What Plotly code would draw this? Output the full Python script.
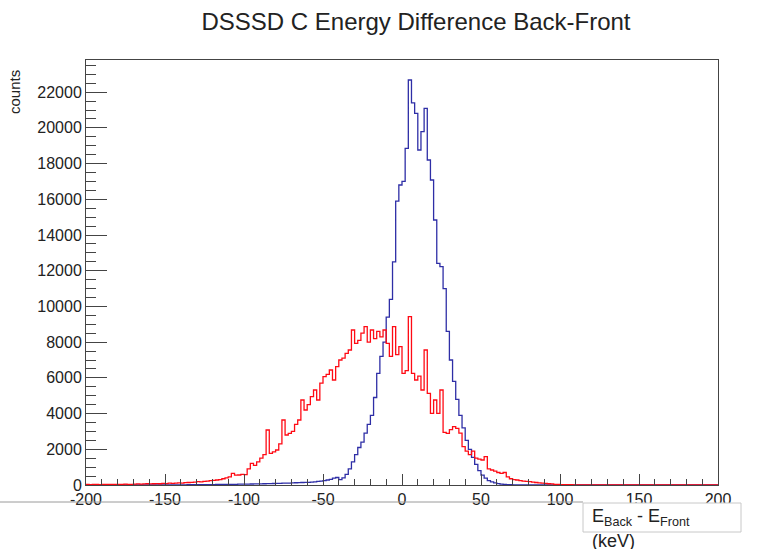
import numpy as np
import plotly.graph_objects as go

# Histogram binning (2 keV bins from -200 to 200 keV)
bin_lo, bin_hi, bin_w = -200, 200, 2

# Blue histogram counts, one row per 20 keV (left edges -200, -180, ...)
blue_counts = [
    0, 0, 0, 0, 0, 0, 0, 0, 0, 0,
    0, 0, 0, 0, 0, 0, 0, 0, 0, 0,
    0, 0, 5, 5, 5, 5, 10, 10, 10, 10,
    10, 10, 15, 15, 15, 20, 20, 20, 25, 25,
    25, 30, 30, 30, 35, 35, 40, 40, 45, 45,
    50, 50, 55, 60, 60, 65, 70, 75, 80, 85,
    90, 95, 100, 105, 110, 120, 125, 130, 140, 150,
    150, 160, 180, 200, 220, 250, 280, 320, 380, 420,
    300, 400, 600, 900, 1300, 1700, 2100, 2400, 2900, 3400,
    3900, 4900, 6255, 7200, 8000, 9400, 10400, 12500, 15900, 16800,
    17000, 18855, 22680, 21400, 20815, 18760, 19785, 21095, 18200, 17080,
    14840, 12415, 12225, 11000, 8600, 7000, 5800, 4800, 3900, 3200,
    2500, 2000, 1550, 1150, 800, 550, 380, 250, 170, 120,
    80, 50, 35, 20, 15, 10, 8, 5, 5, 3,
    0, 0, 0, 0, 0, 0, 0, 0, 0, 0,
    0, 0, 0, 0, 0, 0, 0, 0, 0, 0,
    0, 0, 0, 0, 0, 0, 0, 0, 0, 0,
    0, 0, 0, 0, 0, 0, 0, 0, 0, 0,
    0, 0, 0, 0, 0, 0, 0, 0, 0, 0,
    0, 0, 0, 0, 0, 0, 0, 0, 0, 0,
]

# Red histogram counts, one row per 20 keV (left edges -200, -180, ...)
red_counts = [
    30, 20, 40, 30, 20, 30, 40, 30, 40, 30,
    40, 30, 50, 40, 40, 50, 60, 50, 60, 70,
    60, 70, 80, 70, 90, 80, 100, 90, 110, 120,
    110, 130, 140, 150, 160, 185, 180, 200, 220, 250,
    260, 280, 300, 350, 400, 450, 650, 550, 560, 600,
    580, 900, 1215, 1100, 1300, 1500, 1700, 3080, 1775, 1850,
    1960, 2300, 3640, 2800, 2895, 3000, 3400, 3640, 4760, 4200,
    4500, 4945, 5320, 4760, 5700, 6065, 6200, 6440, 5880, 6625,
    7000, 7100, 7375, 7560, 8680, 7935, 8100, 8500, 8865, 8000,
    8680, 8200, 8600, 8300, 8680, 7935, 7200, 8865, 7300, 7745,
    6255, 6400, 9425, 6255, 5880, 6100, 5320, 7560, 5135, 4015,
    4760, 4015, 5320, 2950, 2895, 3100, 3265, 3175, 2900, 2150,
    1900, 1700, 1900, 1500, 1450, 1400, 1585, 900, 840, 780,
    700, 655, 700, 450, 350, 300, 280, 250, 220, 200,
    185, 160, 140, 120, 100, 90, 70, 60, 40, 30,
    20, 20, 15, 15, 10, 10, 10, 8, 8, 5,
    5, 5, 5, 5, 5, 5, 5, 5, 5, 5,
    5, 5, 5, 5, 5, 5, 5, 5, 5, 5,
    5, 5, 5, 5, 5, 5, 5, 5, 5, 5,
    5, 5, 5, 5, 5, 5, 5, 5, 5, 5,
]

x_tick_vals = [-200, -150, -100, -50, 0, 50, 100, 150, 200]
x_tick_text = ["-200", "-150", "-100", "-50", "0", "50", "100", "150", "200"]
y_tick_vals = [0, 2000, 4000, 6000, 8000, 10000, 12000, 14000, 16000, 18000, 20000, 22000]
y_tick_text = ["0", "2000", "4000", "6000", "8000", "10000", "12000", "14000",
               "16000", "18000", "20000", "22000"]

edges = np.arange(bin_lo, bin_hi + bin_w, bin_w)

def step_y(vals):
    return list(vals) + [vals[-1]]

FONT = "Liberation Sans, Arial, Helvetica, sans-serif"

fig = go.Figure()
fig.add_trace(go.Scatter(x=edges, y=step_y(blue_counts), mode="lines",
                         line=dict(shape="hv", color="#2e2ea6", width=1.3),
                         hoverinfo="skip", showlegend=False))
fig.add_trace(go.Scatter(x=edges, y=step_y(red_counts), mode="lines",
                         line=dict(shape="hv", color="#ff0a14", width=1.3),
                         hoverinfo="skip", showlegend=False))

W, H = 784, 549
L, R, T, B = 86, 718, 60, 485

def px_x(p):
    return (p - L) / (R - L)

def px_y(p):
    return (B - p) / (B - T)

fig.update_layout(
    width=W, height=H,
    margin=dict(l=L, r=W - R, t=T, b=H - B),
    paper_bgcolor="white", plot_bgcolor="white",
    font=dict(family=FONT, color="#222"),
    title=dict(text="DSSSD C Energy Difference Back-Front", x=416 / W, xanchor="center",
               y=1 - 22 / H, yanchor="middle",
               font=dict(family=FONT, size=24, color="#222")),
    xaxis=dict(range=[bin_lo, bin_hi], showgrid=False, zeroline=False,
               showline=True, mirror=True, linecolor="#444", linewidth=1,
               ticks="inside", ticklen=11, tickcolor="#444",
               tickvals=x_tick_vals, ticktext=x_tick_text,
               tickfont=dict(size=16, color="#222"),
               minor=dict(ticks="inside", ticklen=6, dtick=10, tickcolor="#444",
                          showgrid=False)),
    yaxis=dict(range=[0, 23800], showgrid=False, zeroline=False,
               showline=True, mirror=True, linecolor="#444", linewidth=1,
               ticks="inside", ticklen=21, tickcolor="#444",
               tickvals=y_tick_vals, ticktext=y_tick_text,
               tickfont=dict(size=16, color="#222"),
               minor=dict(ticks="inside", ticklen=10, dtick=500, tickcolor="#444",
                          showgrid=False)),
)

# "counts" axis title (rotated, near the top of the axis)
fig.add_annotation(text="counts", xref="paper", yref="paper",
                   x=px_x(14), y=px_y(92), xanchor="center", yanchor="middle",
                   textangle=-90, showarrow=False,
                   font=dict(family=FONT, size=15, color="#222"))

# Bottom separator line and axis-title box
fig.add_shape(type="line", xref="paper", yref="paper",
              x0=px_x(0), x1=px_x(583), y0=px_y(502), y1=px_y(502),
              line=dict(color="#9a9a9a", width=1))
fig.add_shape(type="rect", xref="paper", yref="paper",
              x0=px_x(583), x1=px_x(741), y0=px_y(503), y1=px_y(532),
              line=dict(color="#c8c8c8", width=1), fillcolor="white")
fig.add_annotation(text="E<sub>Back</sub> - E<sub>Front</sub>", xref="paper", yref="paper",
                   x=px_x(590), y=px_y(517), xanchor="left", yanchor="middle",
                   showarrow=False, font=dict(family=FONT, size=18, color="#222"))
fig.add_annotation(text="(keV)", xref="paper", yref="paper",
                   x=px_x(590), y=px_y(541), xanchor="left", yanchor="middle",
                   showarrow=False, font=dict(family=FONT, size=18, color="#222"))

fig.write_html("out.html")
